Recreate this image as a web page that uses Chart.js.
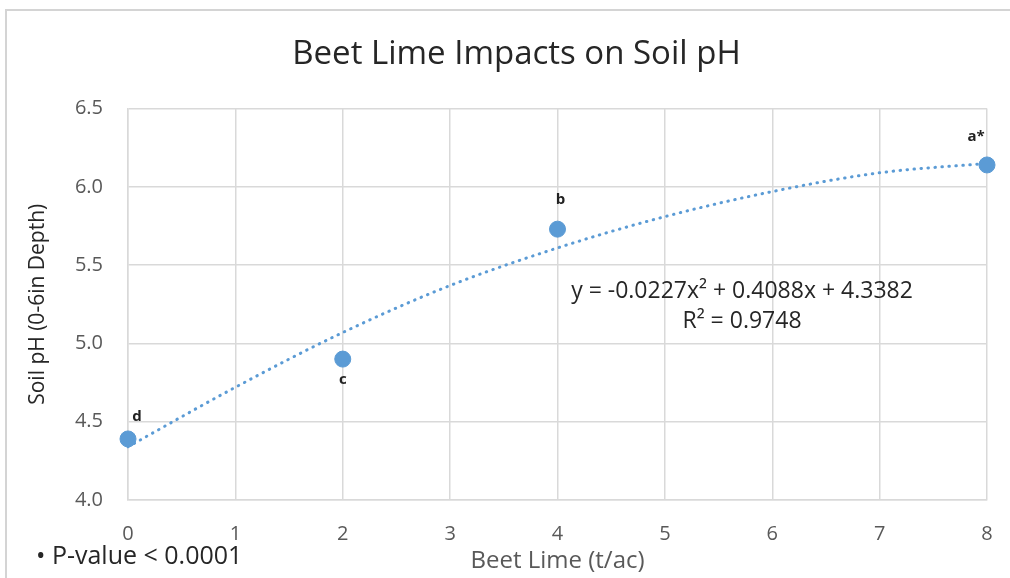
<!DOCTYPE html>
<html>
<head>
<meta charset="utf-8">
<script src="https://cdn.jsdelivr.net/npm/chart.js@4.4.1/dist/chart.umd.min.js"></script>
<style>
  html, body { margin: 0; padding: 0; background: #fff; }
  #wrap { width: 1010px; height: 578px; position: relative; }
</style>
</head>
<body>
<div id="wrap"><canvas id="myChart" width="1010" height="578"></canvas></div>
<script>
// Data
var limeRates = [0, 2, 4, 8];
var soilPh = [4.39, 4.9, 5.73, 6.14];
var pointLabels = ['d', 'c', 'b', 'a*'];

// dotted polynomial trendline, read at whole x values
var trendX = [0, 1, 2, 3, 4, 5, 6, 7, 8];
var trendY = [4.34, 4.72, 5.07, 5.37, 5.61, 5.81, 5.97, 6.09, 6.15];

var equationText = 'y = -0.0227x\u00B2 + 0.4088x + 4.3382';
var r2Text = 'R\u00B2 = 0.9748';
var noteText = '\u2022 P-value < 0.0001';

var FONT = "'Open Sans', sans-serif";
var BLUE = '#5b9bd5';
var GRID = '#d9d9d9';

// frame around the whole chart, plus the extra texts
var extrasPlugin = {
  id: 'extras',
  beforeDraw: function (chart) {
    var ctx = chart.ctx;
    ctx.save();
    ctx.fillStyle = '#fff';
    ctx.fillRect(0, 0, chart.width, chart.height);
    ctx.strokeStyle = '#d4d4d4';
    ctx.lineWidth = 2;
    ctx.beginPath();
    ctx.moveTo(6, chart.height);
    ctx.lineTo(6, 10);
    ctx.lineTo(chart.width, 10);
    ctx.stroke();
    ctx.restore();
  },
  afterDatasetsDraw: function (chart) {
    var ctx = chart.ctx;
    var meta = chart.getDatasetMeta(1);
    var offsets = [[9, -22], [0, 21], [3, -29], [-11, -28]];
    ctx.save();
    ctx.fillStyle = '#222';
    ctx.font = 'bold 15px ' + FONT;
    ctx.textAlign = 'center';
    ctx.textBaseline = 'middle';
    meta.data.forEach(function (pt, i) {
      ctx.fillText(pointLabels[i], pt.x + offsets[i][0], pt.y + offsets[i][1]);
    });

    var area = chart.chartArea;
    ctx.fillStyle = '#262626';
    ctx.font = '23px ' + FONT;
    ctx.fillText(equationText, area.left + 614, area.top + 183);
    ctx.fillText(r2Text, area.left + 614, area.top + 213);

    ctx.textAlign = 'left';
    ctx.font = '25px ' + FONT;
    ctx.fillText(noteText, 36, 557);
    ctx.restore();
  }
};

var ctx = document.getElementById('myChart').getContext('2d');
var chart = new Chart(ctx, {
  type: 'scatter',
  data: {
    datasets: [
      {
        type: 'line',
        label: 'Trend',
        data: trendX.map(function (x, i) { return { x: x, y: trendY[i] }; }),
        borderColor: BLUE,
        borderWidth: 3,
        borderDash: [0.5, 6.5],
        borderCapStyle: 'round',
        pointRadius: 0,
        fill: false,
        cubicInterpolationMode: 'monotone',
        order: 2
      },
      {
        label: 'Soil pH',
        data: limeRates.map(function (x, i) { return { x: x, y: soilPh[i] }; }),
        backgroundColor: BLUE,
        borderColor: BLUE,
        pointRadius: 8,
        pointHoverRadius: 8,
        order: 1
      }
    ]
  },
  options: {
    responsive: false,
    animation: false,
    clip: false,
    // left padding is there to shift the centred title a little to the right
    layout: { padding: { left: 46, right: 23, top: 0, bottom: 0 } },
    plugins: {
      legend: { display: false },
      tooltip: { enabled: false },
      title: {
        display: true,
        text: 'Beet Lime Impacts on Soil pH',
        color: '#262626',
        font: { family: FONT, size: 33, weight: 'normal' },
        padding: { top: 35, bottom: 34 }
      }
    },
    scales: {
      x: {
        type: 'linear',
        min: 0,
        max: 8,
        ticks: {
          stepSize: 1,
          color: '#595959',
          font: { family: FONT, size: 20 },
          padding: 22
        },
        grid: { color: GRID, lineWidth: 1.5, drawTicks: false },
        border: { color: GRID, width: 1.5 },
        title: {
          display: true,
          text: 'Beet Lime (t/ac)',
          color: '#595959',
          font: { family: FONT, size: 24 },
          padding: { top: 0, bottom: 2 }
        },
        afterFit: function (scale) {
          scale.height = 78;
          scale.paddingLeft = 0;
          scale.paddingRight = 0;
        }
      },
      y: {
        min: 4.0,
        max: 6.5,
        ticks: {
          stepSize: 0.5,
          color: '#595959',
          font: { family: FONT, size: 20 },
          padding: 25,
          callback: function (v) { return Number(v).toFixed(1); }
        },
        grid: { color: GRID, lineWidth: 1.5, drawTicks: false },
        border: { color: GRID, width: 1.5 },
        title: {
          display: true,
          text: 'Soil pH (0-6in Depth)',
          color: '#262626',
          font: { family: FONT, size: 21 },
          padding: { top: -21, bottom: 0 }
        },
        afterFit: function (scale) { scale.width = 82; }
      }
    }
  },
  plugins: [extrasPlugin]
});
</script>
</body>
</html>
